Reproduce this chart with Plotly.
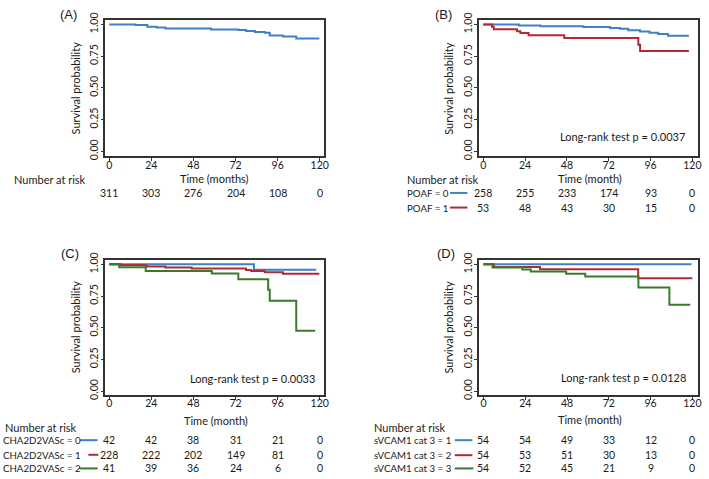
import plotly.graph_objects as go

W, H = 709, 479

# ---------------- data ----------------
time_ticks = [0, 24, 48, 72, 96, 120]

# Panel A: overall
a_time = [0, 15, 21.7, 27, 32, 58, 73.6, 78, 83, 88.7, 91.5, 99, 106.6, 119.8]
a_surv = [1.0, 0.995, 0.982, 0.975, 0.967, 0.96, 0.956, 0.948, 0.94, 0.934, 0.913, 0.905, 0.89, 0.89]
a_risk = [311, 303, 276, 204, 108, 0]

# Panel B: POAF
b0_time = [0, 20.4, 32.8, 57.5, 72.8, 78.5, 83.2, 90, 95.4, 100.4, 106, 118]
b0_surv = [1.0, 0.992, 0.985, 0.98, 0.972, 0.965, 0.954, 0.944, 0.935, 0.925, 0.91, 0.91]
b1_time = [0, 5, 6, 19.4, 21.3, 26, 46.5, 89, 90, 118]
b1_surv = [1.0, 0.981, 0.962, 0.946, 0.933, 0.915, 0.893, 0.84, 0.79, 0.79]
b_labels = ["POAF = 0", "POAF = 1"]
b_risk = [[258, 255, 233, 174, 93, 0], [53, 48, 43, 30, 15, 0]]

# Panel C: CHA2D2VASc
c0_time = [0, 82.5, 118]
c0_surv = [1.0, 0.957, 0.957]
c1_time = [0, 6.6, 19.8, 21.5, 32, 47, 78, 81, 88.7, 99, 119.8]
c1_surv = [1.0, 0.995, 0.99, 0.982, 0.975, 0.967, 0.956, 0.948, 0.938, 0.925, 0.925]
c2_time = [0, 5.7, 20.8, 58.5, 73.6, 90.6, 91.5, 106.6, 117.4]
c2_surv = [1.0, 0.976, 0.948, 0.928, 0.883, 0.80, 0.712, 0.477, 0.477]
c_labels = ["CHA2D2VASc = 0", "CHA2D2VASc = 1", "CHA2D2VASc = 2"]
c_risk = [[42, 42, 38, 31, 21, 0], [228, 222, 202, 149, 81, 0], [41, 39, 36, 24, 6, 0]]

# Panel D: sVCAM1 tertiles
d0_time = [0, 119.5]
d0_surv = [1.0, 1.0]
d1_time = [0, 6, 32.5, 88.9, 120]
d1_surv = [1.0, 0.978, 0.962, 0.89, 0.89]
d2_time = [0, 5.2, 22.3, 27.2, 47.5, 58.5, 89, 106.8, 118.8]
d2_surv = [1.0, 0.975, 0.96, 0.943, 0.926, 0.904, 0.818, 0.682, 0.682]
d_labels = ["sVCAM1 cat 3 = 1", "sVCAM1 cat 3 = 2", "sVCAM1 cat 3 = 3"]
d_risk = [[54, 54, 49, 33, 12, 0], [54, 53, 51, 30, 13, 0], [54, 52, 45, 21, 9, 0]]

pvals = ["Long-rank test p = 0.0037", "Long-rank test p = 0.0033", "Long-rank test p = 0.0128"]

# ---------------- style ----------------
BLUE = "#3f80c6"
RED = "#b02a36"
GREEN = "#3a7a2c"
FONT = "Lato"
TXT = "#1a1a1a"
TICK = 10.5
NUM = 10.5
LAB = 9.7


def px(x):
    return x / W


def py(y):
    return 1 - y / H


fig = go.Figure()

# axis boxes (pixels): left, right, top, bottom
boxes = {
    "": (106, 326, 13.3, 153.3),
    "2": (482.5, 702.7, 13.3, 153.3),
    "3": (106, 326, 259, 398),
    "4": (482.5, 702.7, 259, 398),
}
xranges = {"": [-2.26, 122.26], "2": [-2.4, 123.1], "3": [-2.26, 122.26], "4": [-2.5, 123.1]}
yranges = {"": [-0.04, 1.035], "2": [-0.04, 1.035], "3": [-0.031, 1.038], "4": [-0.031, 1.038]}

for k, (l, r, t, b) in boxes.items():
    fig.update_layout(**{
        "xaxis" + k: dict(
            domain=[px(l), px(r)], range=xranges[k], anchor="y" + k,
            tickvals=time_ticks, ticks="outside", ticklen=3, tickwidth=1, tickcolor="#333",
            ticklabelstandoff=-5,
            showline=True, mirror=True, linecolor="#333", linewidth=1.5,
            showgrid=False, zeroline=False,
            tickfont=dict(family=FONT, size=TICK, color=TXT),
        ),
        "yaxis" + k: dict(
            domain=[py(b), py(t)], range=yranges[k], anchor="x" + k,
            tickvals=[0, 0.25, 0.5, 0.75, 1.0], ticktext=["0.00", "0.25", "0.50", "0.75", "1.00"],
            tickangle=-90, ticks="outside", ticklen=3, tickwidth=1, tickcolor="#333",
            ticklabelstandoff=-2,
            showline=True, mirror=True, linecolor="#333", linewidth=1.5,
            showgrid=False, zeroline=False,
            tickfont=dict(family=FONT, size=TICK, color=TXT),
        ),
    })


def add_curve(t, s, color, k):
    fig.add_trace(go.Scatter(
        x=t, y=s, mode="lines", line=dict(color=color, width=2, shape="hv"),
        xaxis="x" + k, yaxis="y" + k, showlegend=False, hoverinfo="skip"))


add_curve(a_time, a_surv, BLUE, "")
add_curve(b0_time, b0_surv, BLUE, "2")
add_curve(b1_time, b1_surv, RED, "2")
add_curve(c0_time, c0_surv, BLUE, "3")
add_curve(c1_time, c1_surv, RED, "3")
add_curve(c2_time, c2_surv, GREEN, "3")
add_curve(d0_time, d0_surv, BLUE, "4")
add_curve(d1_time, d1_surv, RED, "4")
add_curve(d2_time, d2_surv, GREEN, "4")

ann = []


def text(x, y, s, size=11, anchor="center", angle=0, xref="paper", color=TXT, family=FONT):
    ann.append(dict(x=x if xref != "paper" else px(x), y=py(y), xref=xref, yref="paper",
                    text=s, showarrow=False, xanchor=anchor, yanchor="middle",
                    textangle=angle, font=dict(family=family, size=size, color=color)))


# panel letters
text(69, 8, "(A)", size=13, family="Liberation Sans")
text(447, 8, "(B)", size=13, family="Liberation Sans")
text(70, 253, "(C)", size=13, family="Liberation Sans")
text(449, 253, "(D)", size=13, family="Liberation Sans")

# y titles
text(76, 83, "Survival probability", angle=-90)
text(452, 83, "Survival probability", angle=-90)
text(76, 328, "Survival probability", angle=-90)
text(452, 328, "Survival probability", angle=-90)

# x titles
text(216, 176, "Time (months)")
text(594, 176, "Time (month)")
text(218, 424, "Time (month)")
text(594, 423, "Time (month)")

# p values
text(692, 133, pvals[0], anchor="right")
text(319, 381, pvals[1], anchor="right")
text(693, 380, pvals[2], anchor="right")

# number at risk
text(12, 177, "Number at risk", anchor="left")
for v, n in zip(time_ticks, a_risk):
    text(v, 191, str(n), xref="x", size=NUM)

text(408, 177, "Number at risk", anchor="left")
rows_b = [191, 206]
for i, lab in enumerate(b_labels):
    text(408, rows_b[i], lab, anchor="left", size=LAB)
    for v, n in zip(time_ticks, b_risk[i]):
        text(v, rows_b[i], str(n), xref="x2", size=NUM)

text(3, 431, "Number at risk", anchor="left")
rows_c = [444.3, 459.3, 473.3]
for i, lab in enumerate(c_labels):
    text(1, rows_c[i], lab, anchor="left", size=LAB)
    for v, n in zip(time_ticks, c_risk[i]):
        text(v, rows_c[i], str(n), xref="x3", size=NUM)

text(375, 431, "Number at risk", anchor="left")
rows_d = [444.3, 459.7, 473.3]
for i, lab in enumerate(d_labels):
    text(375, rows_d[i], lab, anchor="left", size=LAB)
    for v, n in zip(time_ticks, d_risk[i]):
        text(v, rows_d[i], str(n), xref="x4", size=NUM)

# legend key lines in risk tables
shapes = []


def key(x0, x1, y, color):
    shapes.append(dict(type="line", xref="paper", yref="paper", x0=px(x0), x1=px(x1),
                       y0=py(y), y1=py(y), line=dict(color=color, width=2)))


key(453.3, 470.7, 190.7, BLUE)
key(453.3, 470.7, 205.7, RED)
key(80.5, 98.3, 444.3, BLUE)
key(89, 99, 459.3, RED)
key(80, 98.3, 473.3, GREEN)
key(458, 475.7, 444.3, BLUE)
key(458, 475.7, 459.7, RED)
key(458, 476.7, 473.3, GREEN)

fig.update_layout(
    width=W, height=H, margin=dict(l=0, r=0, t=0, b=0),
    paper_bgcolor="white", plot_bgcolor="white",
    annotations=ann, shapes=shapes, showlegend=False,
)

fig.write_html("out.html", config={"displayModeBar": False},
               post_script="document.body.style.margin='0';document.body.style.overflow='hidden';")
